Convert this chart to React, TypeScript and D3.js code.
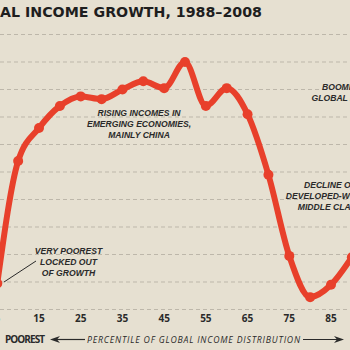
import React, { useEffect, useRef } from 'react';
import * as d3 from 'd3';

// percentile of global income distribution
const percentiles = [5, 10, 15, 20, 25, 30, 35, 40, 45, 50, 55, 60, 65, 70, 75, 80, 85, 90];
const growth = [9.5, 54, 66, 74, 77.5, 76.5, 80, 83, 80.5, 90, 74, 80.5, 71, 49, 19.5, 4.5, 9, 19];
const tickLabels = [5, 15, 25, 35, 45, 55, 65, 75, 85];
const gridValues = [0, 10, 20, 30, 40, 50, 60, 70, 80, 90, 100];

const App = () => {
  const svgRef = useRef<SVGSVGElement>(null);

  useEffect(() => {
    const W = 350;
    const H = 350;
    const bg = '#e6e0d1';
    const red = '#e8402b';
    const ink = '#2a2a2a';
    const annoFont = '"Liberation Sans", Arial, sans-serif';

    const svg = d3.select(svgRef.current);
    svg.selectAll('*').remove();
    svg.attr('width', W).attr('height', H);

    svg.append('rect').attr('width', W).attr('height', H).attr('fill', bg);

    const x = d3.scaleLinear().domain([5, 85]).range([-2.7, 331]);
    const y = d3.scaleLinear().domain([0, 100]).range([309.5, 34.5]);

    // title (cut off at the left edge, as in the source)
    svg.append('text')
      .attr('x', 0)
      .attr('y', 17)
      .attr('fill', '#1e1e1e')
      .attr('textLength', 262)
      .attr('lengthAdjust', 'spacingAndGlyphs')
      .style('font-family', '"DejaVu Sans", "Liberation Sans", sans-serif')
      .style('font-weight', 700)
      .style('font-size', '14px')
      .text('AL INCOME GROWTH, 1988–2008');

    // dashed gridlines
    svg.append('g')
      .selectAll('line')
      .data(gridValues)
      .join('line')
      .attr('x1', 0)
      .attr('x2', W)
      .attr('y1', d => y(d))
      .attr('y2', d => y(d))
      .attr('stroke', '#bdb7aa')
      .attr('stroke-width', 1)
      .attr('stroke-dasharray', '4,3');

    // x tick labels
    svg.append('g')
      .selectAll('text')
      .data(tickLabels)
      .join('text')
      .attr('x', d => x(d))
      .attr('y', 322)
      .attr('text-anchor', 'middle')
      .attr('fill', ink)
      .style('font-family', '"Open Sans", sans-serif')
      .style('font-weight', 700)
      .style('font-size', '10px')
      .text(d => d);

    // axis title row
    svg.append('text')
      .attr('x', 5)
      .attr('y', 343)
      .attr('fill', ink)
      .attr('textLength', 40)
      .style('font-family', '"Open Sans", sans-serif')
      .style('font-weight', 700)
      .style('font-size', '10px')
      .text('POOREST');

    svg.append('text')
      .attr('x', 87)
      .attr('y', 342.5)
      .attr('fill', ink)
      .attr('textLength', 213)
      .style('font-family', '"Open Sans", sans-serif')
      .style('font-style', 'italic')
      .style('font-size', '8.7px')
      .text('PERCENTILE OF GLOBAL INCOME DISTRIBUTION');

    const arrow = (x1: number, x2: number) => {
      const dir = Math.sign(x2 - x1);
      svg.append('line')
        .attr('x1', x1).attr('x2', x2 - dir * 6)
        .attr('y1', 339.5).attr('y2', 339.5)
        .attr('stroke', ink).attr('stroke-width', 1.2);
      svg.append('path')
        .attr('d', `M${x2},339.5 L${x2 - dir * 10},336 L${x2 - dir * 7},339.5 L${x2 - dir * 10},343 Z`)
        .attr('fill', ink);
    };
    arrow(85, 50);
    arrow(303, 344);

    // annotations, one text per line
    const note = (lines: string[], cx: number, y0: number) => {
      svg.append('g')
        .selectAll('text')
        .data(lines)
        .join('text')
        .attr('x', cx)
        .attr('y', (d, i) => y0 + i * 11.3)
        .attr('text-anchor', 'middle')
        .attr('fill', ink)
        .style('font-family', annoFont)
        .style('font-style', 'italic')
        .style('font-weight', 700)
        .style('font-size', '8.6px')
        .text(d => d);
    };
    note(['RISING INCOMES IN', 'EMERGING ECONOMIES,', 'MAINLY CHINA'], 139, 115.5);
    note(['BOOMING', 'GLOBAL ELITE'], 343, 89.5);
    note(['DECLINE OF', 'DEVELOPED-WORLD', 'MIDDLE CLASS'], 330, 187.5);
    note(['VERY POOREST', 'LOCKED OUT', 'OF GROWTH'], 68.5, 253.5);

    svg.append('line')
      .attr('x1', 36).attr('y1', 261)
      .attr('x2', 4).attr('y2', 282)
      .attr('stroke', ink).attr('stroke-width', 1);

    const pts = percentiles.map((p, i) => [x(p), y(growth[i])] as [number, number]);

    const line = d3.line<[number, number]>()
      .x(d => d[0])
      .y(d => d[1])
      .curve(d3.curveMonotoneX);

    svg.append('path')
      .datum(pts)
      .attr('d', line)
      .attr('fill', 'none')
      .attr('stroke', red)
      .attr('stroke-width', 6)
      .attr('stroke-linejoin', 'round')
      .attr('stroke-linecap', 'round');

    svg.append('g')
      .selectAll('circle')
      .data(pts)
      .join('circle')
      .attr('cx', d => d[0])
      .attr('cy', d => d[1])
      .attr('r', 5)
      .attr('fill', red);
  }, []);

  return (
    <svg
      ref={svgRef}
      style={{ position: 'fixed', left: 0, top: 0, display: 'block' }}
    ></svg>
  );
};

export default App;
